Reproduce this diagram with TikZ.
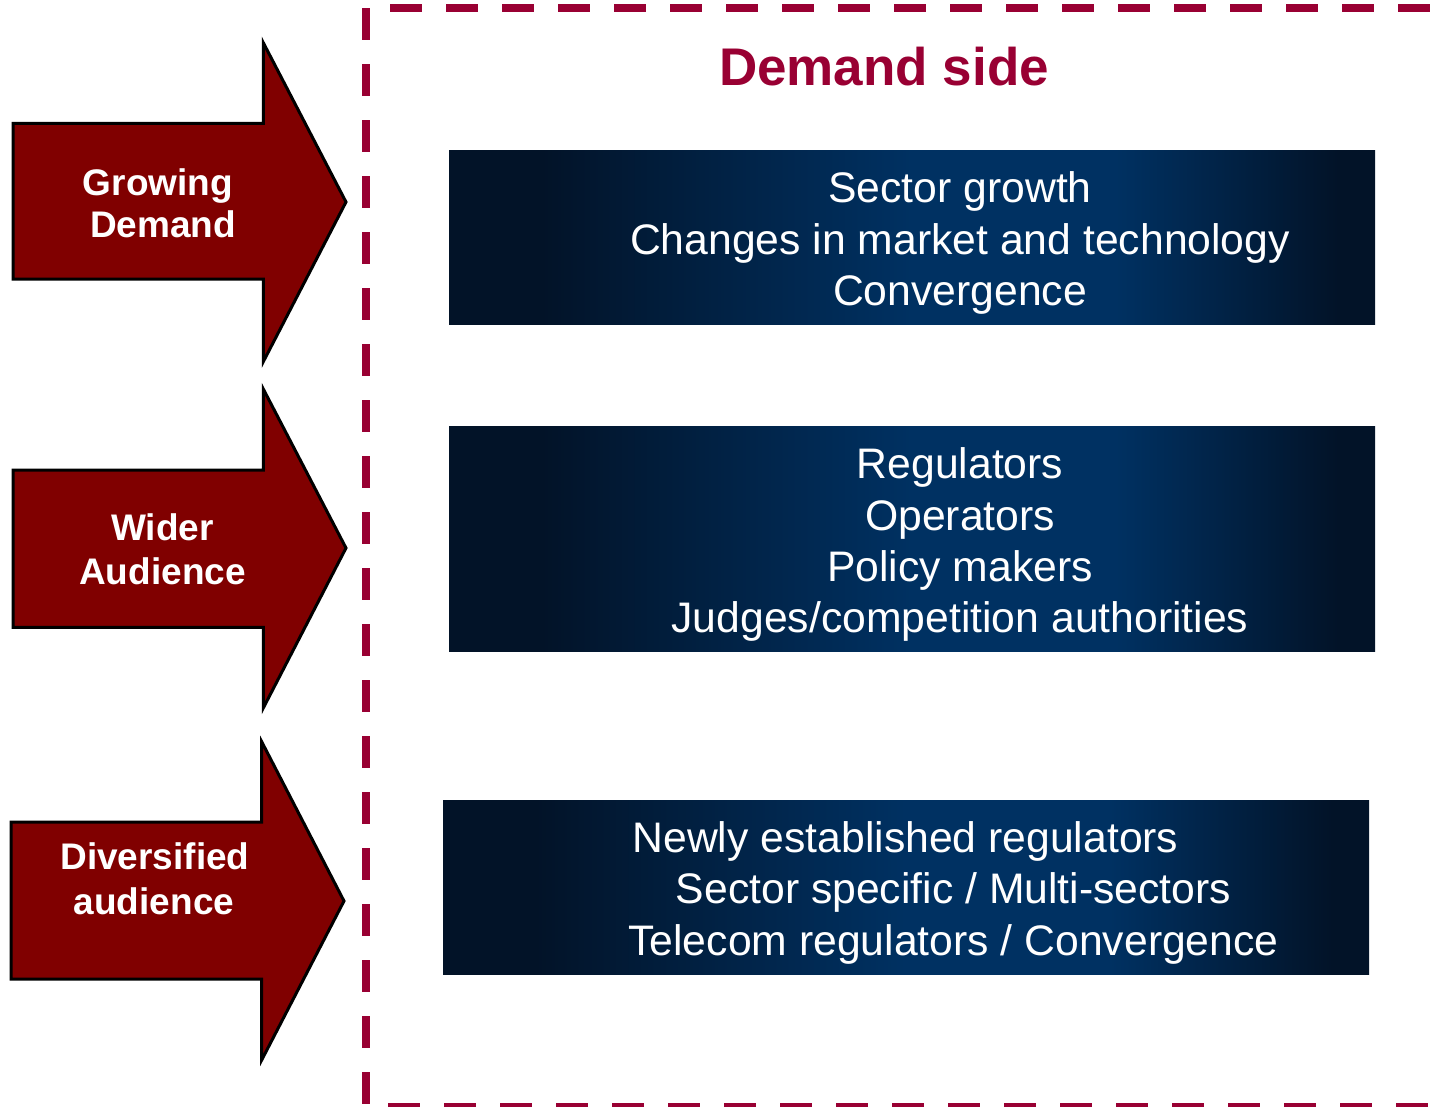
\documentclass[tikz,border=0pt]{standalone}
\usepackage{fontspec}
\setmainfont{Liberation Sans}
\definecolor{framecol}{HTML}{990033}
\definecolor{arrowred}{HTML}{800000}
\definecolor{bdk}{RGB}{2,19,40}
\definecolor{bmid}{RGB}{0,49,98}
\pgfdeclarehorizontalshading{boxshade}{100bp}{color(0bp)=(bdk); color(25bp)=(bdk); color(30bp)=(bdk); color(50bp)=(bmid); color(61bp)=(bmid); color(73bp)=(bdk); color(75bp)=(bdk); color(100bp)=(bdk)}
\tikzset{
  dashline/.style={draw=framecol, line width=8pt, dash pattern=on 32pt off 24pt, line cap=butt},
  bigarrow/.style={fill=arrowred, draw=black, line width=3pt, line join=miter},
  arrowtext/.style={text=white, font=\bfseries\fontsize{37}{42}\selectfont, inner sep=0pt, anchor=base},
  bluebox/.style={shade, shading=boxshade, draw=none, inner sep=0pt, outer sep=0pt},
  boxtext/.style={text=white, font=\fontsize{42.7}{51}\selectfont, inner sep=0pt, anchor=base},
  titletext/.style={text=framecol, font=\bfseries\fontsize{53}{60}\selectfont, inner sep=0pt, anchor=base}
}
\begin{document}
\begin{tikzpicture}[x=1pt,y=-1pt]
\useasboundingbox (0,0) rectangle (1445,1106);
\clip (0,0) rectangle (1445,1106);
% dashed frame
\coordinate (fl1) at (366,8);
\coordinate (fl2) at (366,1112);
\coordinate (ft1) at (390,8);
\coordinate (ft2) at (1460,8);
\coordinate (fb1) at (388,1107);
\coordinate (fb2) at (1460,1107);
\draw[dashline] (fl1) -- (fl2);
\draw[dashline] (ft1) -- (ft2);
\draw[dashline] (fb1) -- (fb2);
% title
\node[titletext] (title) at (884,85) {Demand side};
% arrows
\draw[bigarrow] (13,123.3) -- (263.3,123.3) -- (263.3,42.7) -- (346,202) -- (263.3,361.7) -- (263.3,279) -- (13,279) -- cycle;
\draw[bigarrow] (13,470) -- (263.3,470) -- (263.3,389) -- (346,548) -- (263.3,708) -- (263.3,627.3) -- (13,627.3) -- cycle;
\draw[bigarrow] (11,822) -- (261.7,822) -- (261.7,741.7) -- (344,901) -- (261.7,1060) -- (261.7,979) -- (11,979) -- cycle;
\node[arrowtext] (a1l1) at (158,195) {Growing};
\node[arrowtext] (a1l2) at (163,237) {Demand};
\node[arrowtext] (a2l1) at (162.5,540) {Wider};
\node[arrowtext] (a2l2) at (162.5,584) {Audience};
\node[arrowtext] (a3l1) at (155,869) {Diversified};
\node[arrowtext] (a3l2) at (154,914) {audience};
% boxes
\node[bluebox, minimum width=926pt, minimum height=174pt] (box1) at (912,237) {};
\node[bluebox, minimum width=926pt, minimum height=225pt] (box2) at (912,538.5) {};
\node[bluebox, minimum width=926pt, minimum height=174pt] (box3) at (906,887) {};
\node[boxtext] (b1l1) at (960,202) {Sector growth};
\node[boxtext] (b1l2) at (960,254) {Changes in market and technology};
\node[boxtext] (b1l3) at (960,305) {Convergence};
\node[boxtext] (b2l1) at (960,478) {Regulators};
\node[boxtext] (b2l2) at (960,530) {Operators};
\node[boxtext] (b2l3) at (960,581) {Policy makers};
\node[boxtext] (b2l4) at (960,632) {Judges/competition authorities};
\node[boxtext] (b3l1) at (905.5,852) {Newly established regulators};
\node[boxtext] (b3l2) at (953.5,903) {Sector specific / Multi-sectors};
\node[boxtext] (b3l3) at (953.5,955) {Telecom regulators / Convergence};
\end{tikzpicture}
\end{document}
